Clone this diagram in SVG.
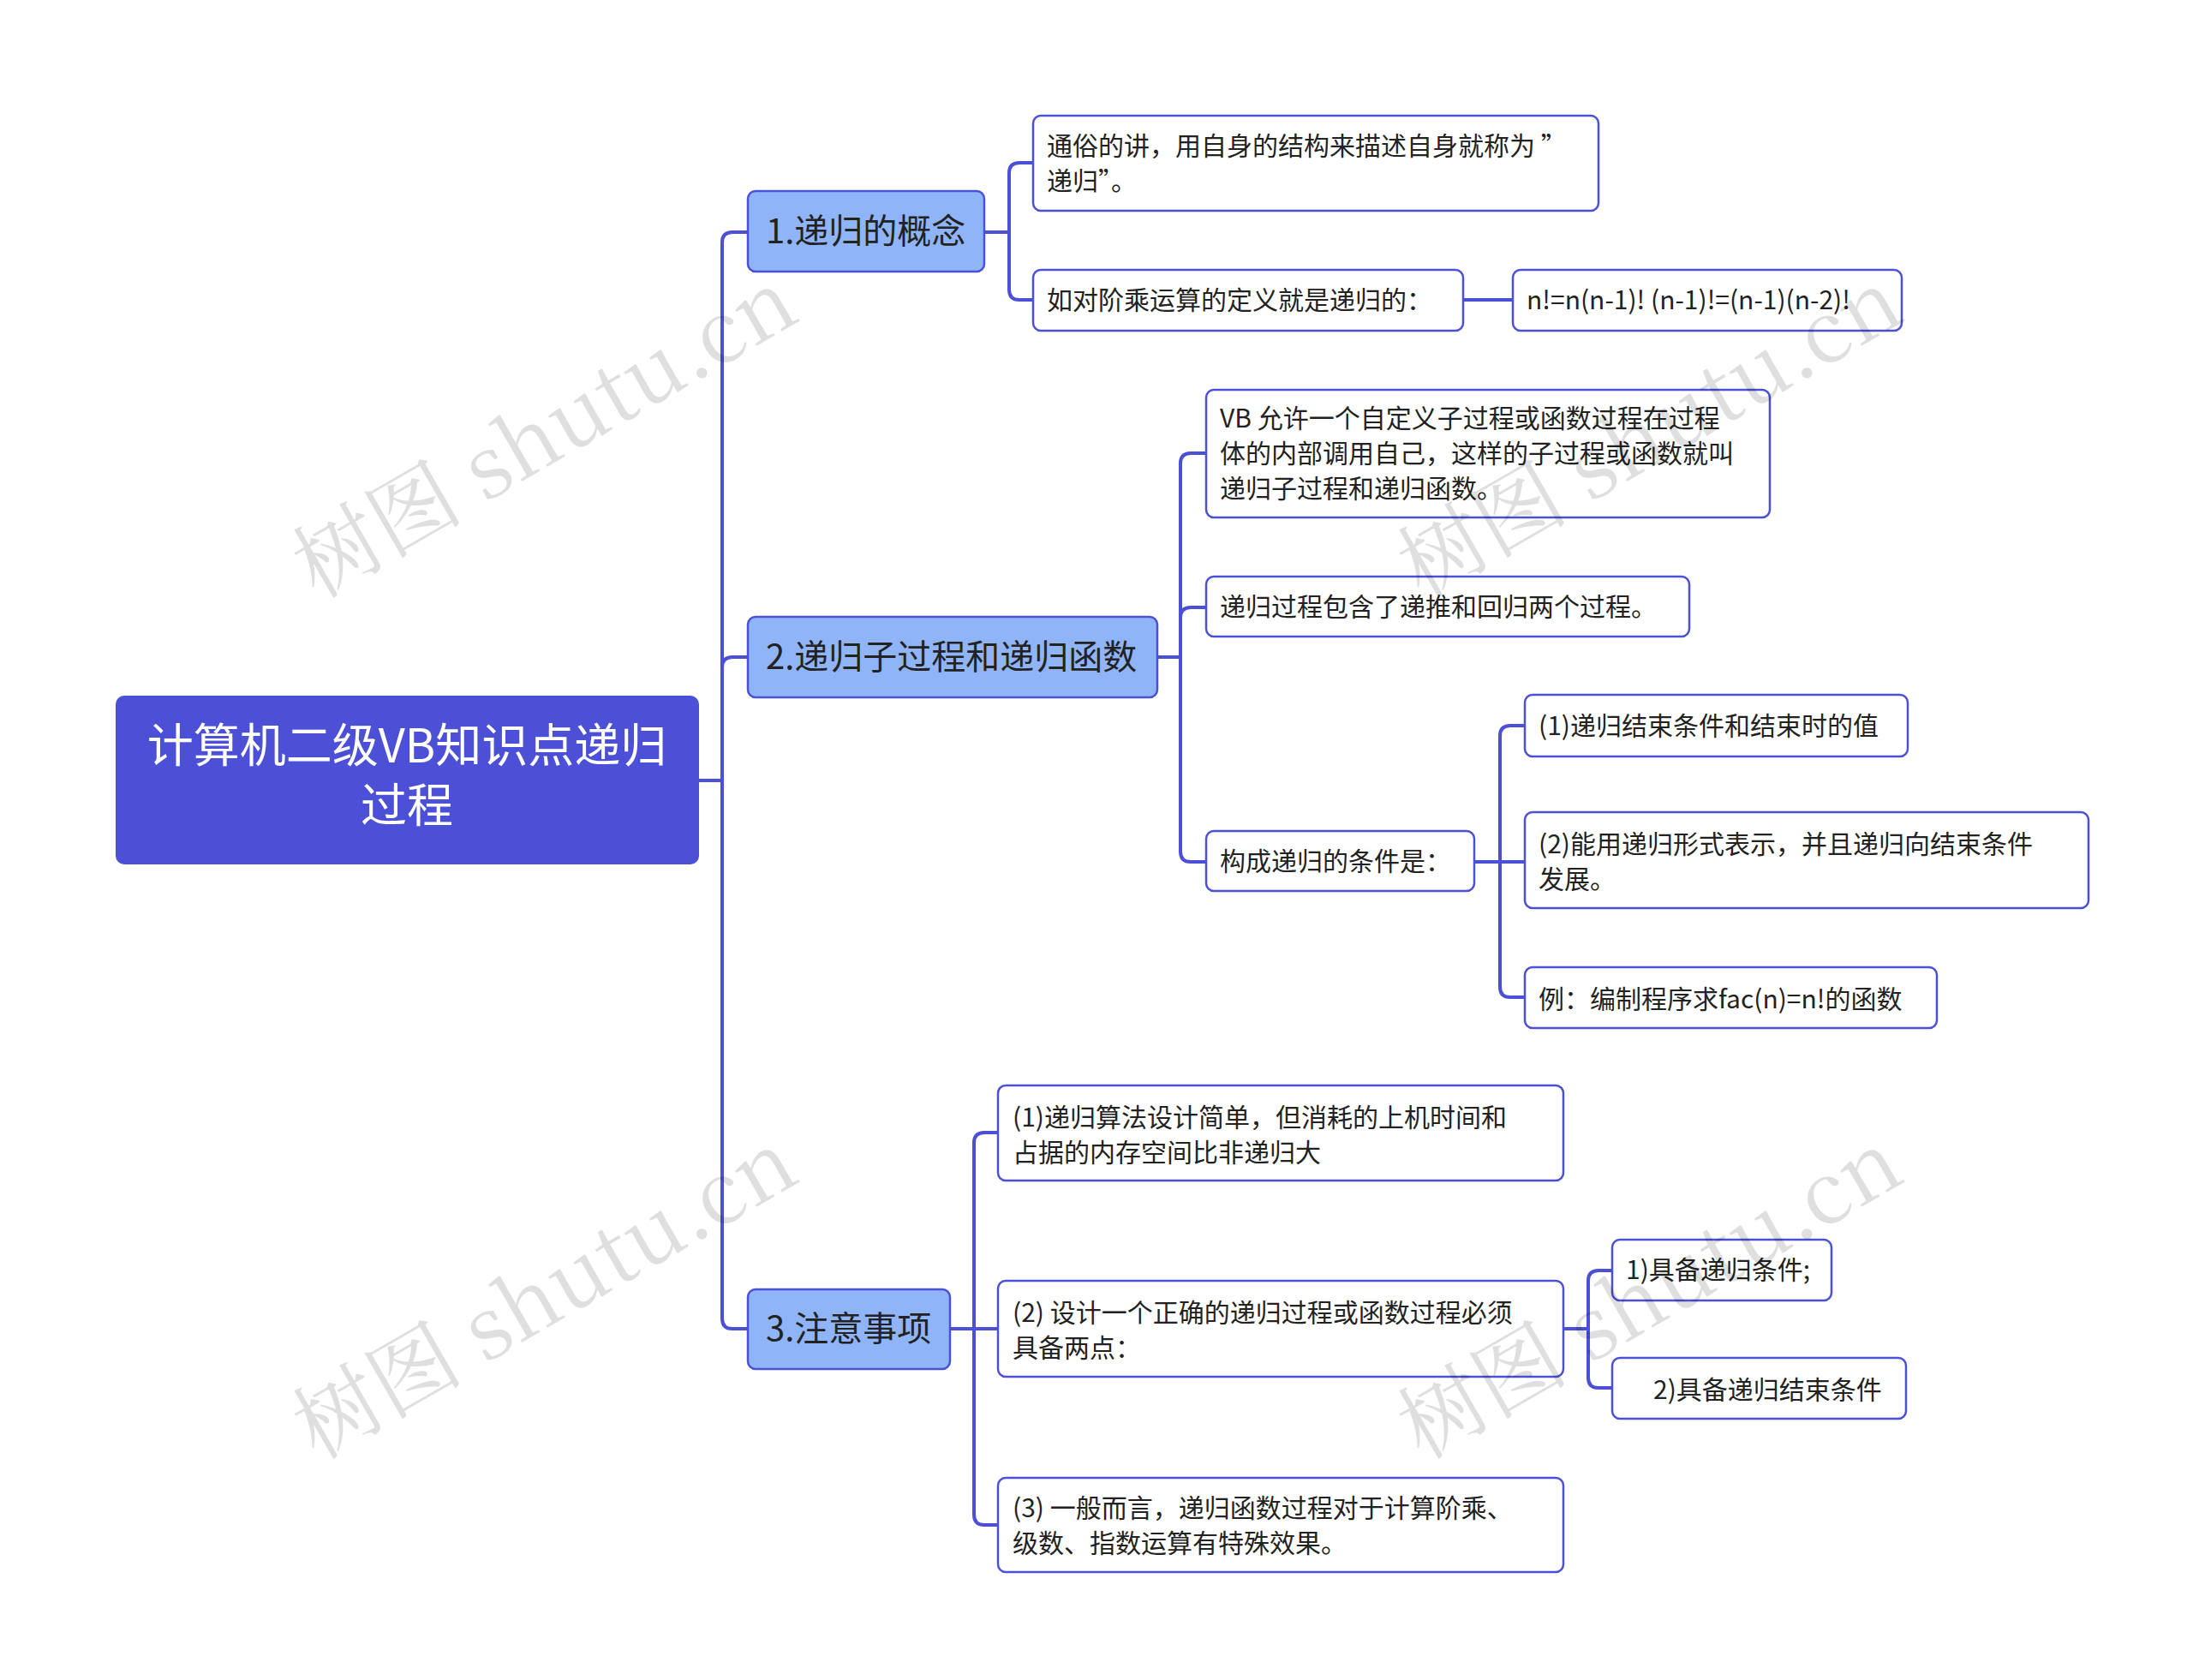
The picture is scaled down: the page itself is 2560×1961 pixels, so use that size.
<svg xmlns="http://www.w3.org/2000/svg" width="2560" height="1961" viewBox="0 0 2560 1961">
<style>
.c{fill:none;stroke:#4b50d6;stroke-width:4}
.leaf{fill:#fff;stroke:#4b50d6;stroke-width:2.5}
.l1{fill:#8fb4f8;stroke:#4b50d6;stroke-width:2.5}
text{font-family:"Noto Sans CJK SC","Noto Sans",sans-serif;fill:#222}
.t{font-size:30px}
.t1{font-size:40px}
.wm{font-family:"Noto Serif CJK SC","Liberation Serif",serif;font-size:100px;fill:#000;opacity:0.12}
</style>
<rect width="2560" height="1961" fill="#fff"/>
<g id="connectors">
<path class="c" d="M816,911 H843 V283 Q843,271 855,271 H873"/>
<path class="c" d="M816,911 H843 V779 Q843,767 855,767 H873"/>
<path class="c" d="M816,911 H843 V1539 Q843,1551 855,1551 H873"/>
<path class="c" d="M1149,271 H1178 V202 Q1178,190 1190,190 H1206"/>
<path class="c" d="M1149,271 H1178 V338 Q1178,350 1190,350 H1206"/>
<path class="c" d="M1708,350 H1766"/>
<path class="c" d="M1351,767 H1378 V541 Q1378,529 1390,529 H1408"/>
<path class="c" d="M1351,767 H1378 V721 Q1378,709 1390,709 H1408"/>
<path class="c" d="M1351,767 H1378 V994 Q1378,1006 1390,1006 H1408"/>
<path class="c" d="M1721,1006 H1751 V859 Q1751,847 1763,847 H1780"/>
<path class="c" d="M1721,1006 H1780"/>
<path class="c" d="M1721,1006 H1751 V1152 Q1751,1164 1763,1164 H1780"/>
<path class="c" d="M1109,1551 H1137 V1334 Q1137,1322 1149,1322 H1165"/>
<path class="c" d="M1109,1551 H1165"/>
<path class="c" d="M1109,1551 H1137 V1768 Q1137,1780 1149,1780 H1165"/>
<path class="c" d="M1825,1551 H1854 V1495 Q1854,1483 1866,1483 H1882"/>
<path class="c" d="M1825,1551 H1854 V1608 Q1854,1620 1866,1620 H1882"/>
</g>
<g id="root"><rect x="135" y="812" width="681" height="197" rx="10" fill="#4b50d6"/>
<text x="475" y="890" font-size="54" text-anchor="middle" style="fill:#fff">计算机二级VB知识点递归</text>
<text x="475" y="960" font-size="54" text-anchor="middle" style="fill:#fff">过程</text></g>
<g id="n1"><rect class="l1" x="873" y="223" width="276" height="94" rx="9"/><text class="t1" x="894" y="284">1.递归的概念</text></g>
<g id="n2"><rect class="l1" x="873" y="720" width="478" height="94" rx="9"/><text class="t1" x="894" y="781">2.递归子过程和递归函数</text></g>
<g id="n3"><rect class="l1" x="873" y="1505" width="236" height="93" rx="9"/><text class="t1" x="894" y="1565">3.注意事项</text></g>
<g id="a"><rect class="leaf" x="1206" y="135" width="660" height="111" rx="9"/><text class="t" x="1222" y="181">通俗的讲，用自身的结构来描述自身就称为 ”</text><text class="t" x="1222" y="222">递归”。</text></g>
<g id="b"><rect class="leaf" x="1206" y="315" width="502" height="71" rx="9"/><text class="t" x="1222" y="361">如对阶乘运算的定义就是递归的：</text></g>
<g id="c"><rect class="leaf" x="1766" y="315" width="454" height="71" rx="9"/><text class="t" x="1782" y="361">n!=n(n-1)! (n-1)!=(n-1)(n-2)!</text></g>
<g id="d"><rect class="leaf" x="1408" y="455" width="658" height="149" rx="9"/><text class="t" x="1424" y="499">VB 允许一个自定义子过程或函数过程在过程</text><text class="t" x="1424" y="540">体的内部调用自己，这样的子过程或函数就叫</text><text class="t" x="1424" y="581">递归子过程和递归函数。</text></g>
<g id="e"><rect class="leaf" x="1408" y="673" width="564" height="70" rx="9"/><text class="t" x="1424" y="719">递归过程包含了递推和回归两个过程。</text></g>
<g id="f"><rect class="leaf" x="1408" y="970" width="313" height="70" rx="9"/><text class="t" x="1424" y="1016">构成递归的条件是：</text></g>
<g id="g"><rect class="leaf" x="1780" y="811" width="447" height="72" rx="9"/><text class="t" x="1796" y="858">(1)递归结束条件和结束时的值</text></g>
<g id="h"><rect class="leaf" x="1780" y="948" width="658" height="112" rx="9"/><text class="t" x="1796" y="996">(2)能用递归形式表示，并且递归向结束条件</text><text class="t" x="1796" y="1037">发展。</text></g>
<g id="i"><rect class="leaf" x="1780" y="1129" width="481" height="71" rx="9"/><text class="t" x="1796" y="1177">例：编制程序求fac(n)=n!的函数</text></g>
<g id="j"><rect class="leaf" x="1165" y="1267" width="660" height="111" rx="9"/><text class="t" x="1182" y="1315">(1)递归算法设计简单，但消耗的上机时间和</text><text class="t" x="1182" y="1356">占据的内存空间比非递归大</text></g>
<g id="k"><rect class="leaf" x="1165" y="1495" width="660" height="112" rx="9"/><text class="t" x="1182" y="1543">(2) 设计一个正确的递归过程或函数过程必须</text><text class="t" x="1182" y="1584">具备两点：</text></g>
<g id="l"><rect class="leaf" x="1882" y="1447" width="256" height="71" rx="9"/><text class="t" x="1898" y="1493">1)具备递归条件;</text></g>
<g id="m"><rect class="leaf" x="1882" y="1585" width="343" height="71" rx="9"/><text class="t" x="1930" y="1633">2)具备递归结束条件</text></g>
<g id="n"><rect class="leaf" x="1165" y="1725" width="660" height="110" rx="9"/><text class="t" x="1182" y="1771">(3) 一般而言，递归函数过程对于计算阶乘、</text><text class="t" x="1182" y="1812">级数、指数运算有特殊效果。</text></g>
<g id="watermarks">
<text class="wm" transform="translate(370,700) rotate(-30)">树图 shutu.cn</text>
<text class="wm" transform="translate(1660,700) rotate(-30)">树图 shutu.cn</text>
<text class="wm" transform="translate(370,1705) rotate(-30)">树图 shutu.cn</text>
<text class="wm" transform="translate(1660,1705) rotate(-30)">树图 shutu.cn</text>
</g>
</svg>
